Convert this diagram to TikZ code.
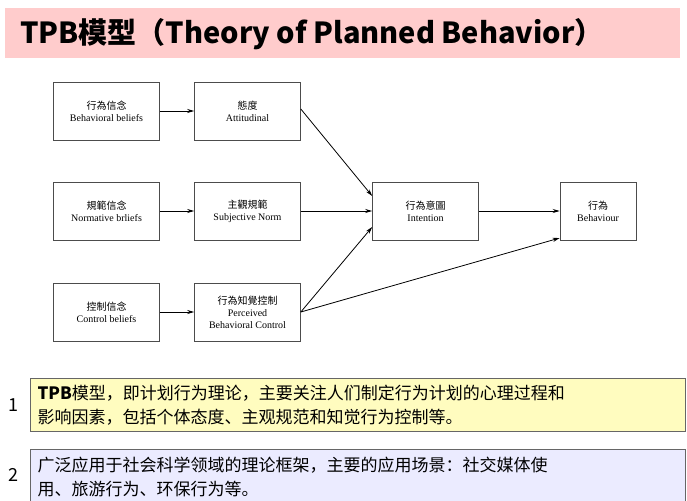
\documentclass[tikz,border=0pt]{standalone}
\usepackage{fontspec}
\setmainfont{Liberation Serif}
\newfontfamily\tcfont{Noto Sans CJK TC}
\newfontfamily\scfont{Noto Sans CJK SC}
\usetikzlibrary{arrows.meta}
\begin{document}
\begin{tikzpicture}[x=1pt,y=-1pt,
  bx/.style={draw=black!70,line width=0.6pt,minimum width=106pt,minimum height=58pt,align=center,font=\fontsize{10}{12}\selectfont,inner sep=1pt},
  ar/.style={-{Stealth[length=7pt,width=4pt]},line width=0.8pt},
  band/.style={draw=black!60,line width=0.6pt,minimum width=655pt,minimum height=53pt,text width=640pt,align=left,font=\scfont\fontsize{17}{24}\selectfont}]
\useasboundingbox (0,0) rectangle (687,500);
\fill[white] (0,0) rectangle (687,500);
\fill[pink!80!white] (5,8) rectangle (680,58);
\node[anchor=west,font=\scfont\bfseries\fontsize{29}{32}\selectfont,inner sep=0pt] (title) at (20,34) {TPB模型（Theory of Planned Behavior）};
\node[bx] (bb) at (106.5,111) {{\tcfont 行為信念}\\Behavioral beliefs};
\node[bx] (att) at (247.5,111) {{\tcfont 態度}\\Attitudinal};
\node[bx] (nb) at (106.5,211) {{\tcfont 規範信念}\\Normative brliefs};
\node[bx] (sn) at (247.5,211) {{\tcfont 主觀規範}\\Subjective Norm};
\node[bx] (cb) at (106.5,312) {{\tcfont 控制信念}\\Control beliefs};
\node[bx] (pbc) at (247.5,312) {{\tcfont 行為知覺控制}\\Perceived\\Behavioral Control};
\node[bx] (int) at (425.5,211) {{\tcfont 行為意圖}\\Intention};
\node[bx,minimum width=76pt] (beh) at (598,211) {{\tcfont 行為}\\Behaviour};
\draw[ar] (bb) -- (att);
\draw[ar] (nb) -- (sn);
\draw[ar] (cb) -- (pbc);
\draw[ar] (att.east) ++(0,-2) -- (int.west |- 0,196);
\draw[ar] (sn) -- (int);
\draw[ar] (pbc.east) -- (int.west |- 0,227);
\draw[ar] (pbc.east) -- (beh.west |- 0,238);
\draw[ar] (int) -- (beh);
\node[band,fill=yellow!25!white] (b1) at (357.5,405) {{\bfseries TPB}模型，即计划行为理论，主要关注人们制定行为计划的心理过程和\\影响因素，包括个体态度、主观规范和知觉行为控制等。};
\node[band,fill=blue!8!white,minimum height=56pt] (b2) at (357.5,477) {广泛应用于社会科学领域的理论框架，主要的应用场景：社交媒体使\\用、旅游行为、环保行为等。};
\node[font=\scfont\fontsize{18}{20}\selectfont] (n1) at (13,405) {1};
\node[font=\scfont\fontsize{18}{20}\selectfont] (n2) at (13,475) {2};
\end{tikzpicture}
\end{document}
